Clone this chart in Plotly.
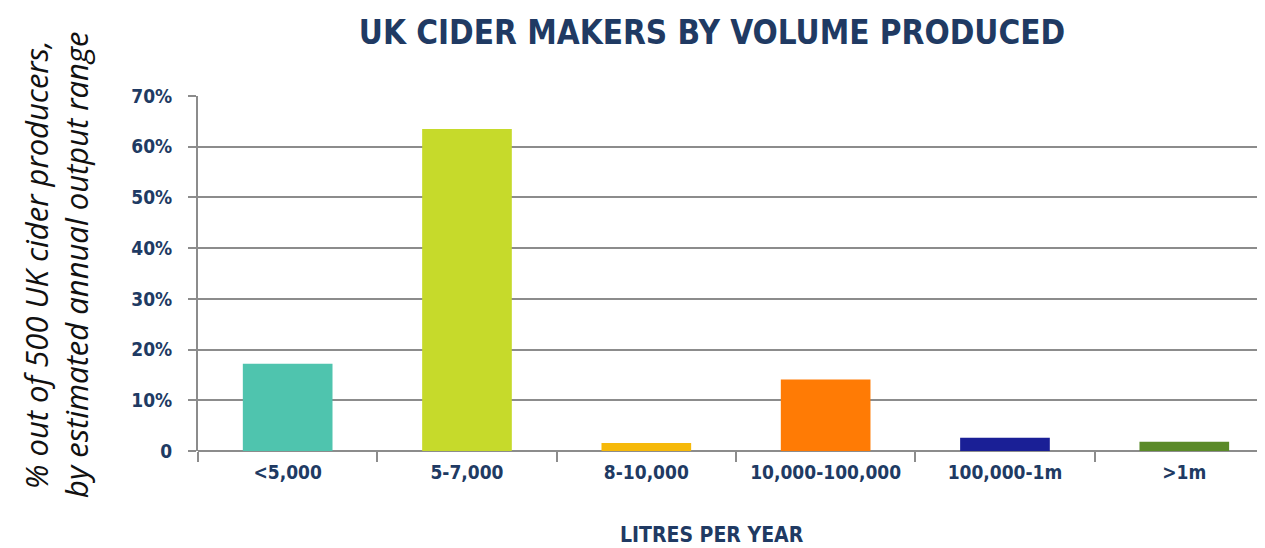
import plotly.graph_objects as go

categories = ["<5,000", "5-7,000", "8-10,000", "10,000-100,000", "100,000-1m", ">1m"]
values = [17.2, 63.5, 1.6, 14.1, 2.6, 1.8]
colors = ["#4fc4ae", "#c6da2b", "#f6b90a", "#ff7b05", "#1a1f96", "#5a8a28"]
y_tickvals = [0, 10, 20, 30, 40, 50, 60, 70]
y_ticktext = ["0", "10%", "20%", "30%", "40%", "50%", "60%", "70%"]

NAVY = "#203a63"
GRID = "#8c8c8c"
COND = "DejaVu Sans Condensed, sans-serif"

# page offset of 8px (browser body margin) compensated in layout
L, T, B, R = 190, 88, 105, 8
PW = 1265 - L - R
PH = 548 - T - B

fig = go.Figure(go.Bar(
    x=categories, y=values, marker=dict(color=colors, line=dict(width=0)),
    width=0.5,
))

fig.update_layout(
    width=1265, height=548,
    margin=dict(l=L, r=R, t=T, b=B, autoexpand=False),
    paper_bgcolor="white", plot_bgcolor="white",
    showlegend=False,
    title=dict(text="UK CIDER MAKERS BY VOLUME PRODUCED",
               x=704/1265, xanchor="center", y=1-24/548, yanchor="middle",
               font=dict(family=COND, size=33, color=NAVY, weight="bold")),
    xaxis=dict(
        type="category", range=[-0.5, 5.45],
        showline=False, showgrid=False, zeroline=False,
        ticks="outside", tickson="boundaries", ticklen=10, tickwidth=2, tickcolor=GRID,
        ticklabelstandoff=8,
        tickfont=dict(family=COND, size=19, color=NAVY, weight="bold"),
    ),
    yaxis=dict(
        range=[0, 70], tickvals=y_tickvals, ticktext=y_ticktext,
        showgrid=True, gridcolor=GRID, gridwidth=2,
        zeroline=True, zerolinecolor=GRID, zerolinewidth=2,
        showline=True, linecolor=GRID, linewidth=2,
        ticks="outside", ticklen=8, tickwidth=2, tickcolor=GRID,
        ticklabelstandoff=12,
        tickfont=dict(family=COND, size=19, color=NAVY, weight="bold"),
    ),
)

fig.add_annotation(
    text="% out of 500 UK cider producers,<br>by estimated annual output range",
    xref="paper", yref="paper", x=(48 - L) / PW, y=(548 - B - 257) / PH,
    xanchor="center", yanchor="middle", textangle=-90, showarrow=False,
    font=dict(family="Open Sans, Liberation Sans, sans-serif", size=31, color="#111111", style="italic"),
)

fig.add_annotation(
    text="LITRES PER YEAR",
    xref="paper", yref="paper", x=(704 - L) / PW, y=-(527 - (548 - B)) / PH,
    xanchor="center", yanchor="middle", showarrow=False,
    font=dict(family=COND, size=21, color=NAVY, weight="bold"),
)

fig.write_html("out.html")
